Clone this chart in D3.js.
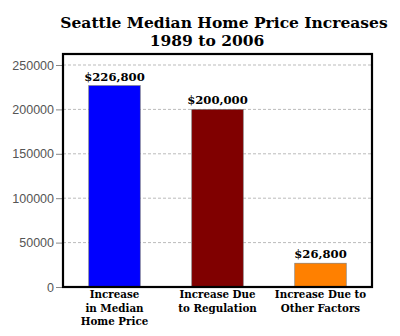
<!DOCTYPE html>
<html>
<head>
<meta charset="utf-8">
<script src="https://cdn.jsdelivr.net/npm/d3@7"></script>
<style>
  body { margin: 0; background: #fff; }
  .title { font-family: "DejaVu Serif", serif; font-weight: bold; font-size: 15.5px; fill: #000; }
  .val { font-family: "DejaVu Serif", serif; font-weight: bold; font-size: 11.6px; fill: #000; }
  .xlab { font-family: "DejaVu Serif", serif; font-weight: bold; font-size: 10.3px; fill: #000; }
  .yaxis text { font-family: "Liberation Sans", Arial, sans-serif; font-size: 12.5px; fill: #555; }
  .yaxis line { stroke: #888; }
</style>
</head>
<body>
<svg id="chart"></svg>
<script>
const categories = [
  ['Increase', 'in Median', 'Home Price'],
  ['Increase Due', 'to Regulation'],
  ['Increase Due to', 'Other Factors']
];
const values = [226800, 200000, 26800];
const valueLabels = ['$226,800', '$200,000', '$26,800'];
const barColors = ['#0000ff', '#800000', '#ff8000'];
const yTicks = [0, 50000, 100000, 150000, 200000, 250000];

const width = 400, height = 336;
const frame = { left: 63, right: 372, top: 54, bottom: 287 };

const svg = d3.select('#chart')
  .attr('width', width)
  .attr('height', height);

// title, two lines
svg.append('text').attr('class', 'title')
  .attr('x', 224).attr('y', 28)
  .attr('text-anchor', 'middle')
  .text('Seattle Median Home Price Increases');
svg.append('text').attr('class', 'title')
  .attr('x', 207).attr('y', 46)
  .attr('text-anchor', 'middle')
  .text('1989 to 2006');

const x = d3.scaleBand()
  .domain(d3.range(values.length))
  .range([frame.left, frame.right])
  .paddingInner(0.5)
  .paddingOuter(0.25);

const y = d3.scaleLinear()
  .domain([0, 250000])
  .range([frame.bottom, 65]);

// dashed gridlines
svg.append('g')
  .selectAll('line')
  .data(yTicks.filter(d => d > 0))
  .join('line')
  .attr('x1', frame.left).attr('x2', frame.right)
  .attr('y1', d => y(d)).attr('y2', d => y(d))
  .attr('stroke', '#bbb')
  .attr('stroke-dasharray', '3,2');

const yAxis = d3.axisLeft(y)
  .tickValues(yTicks)
  .tickFormat(d3.format('d'))
  .tickSize(7)
  .tickPadding(2);

svg.append('g')
  .attr('class', 'yaxis')
  .attr('transform', `translate(${frame.left},0)`)
  .call(yAxis)
  .call(g => g.select('.domain').remove());

// bars
svg.append('g')
  .selectAll('rect')
  .data(values)
  .join('rect')
  .attr('x', (d, i) => x(i))
  .attr('y', d => y(d))
  .attr('width', x.bandwidth())
  .attr('height', d => y(0) - y(d))
  .attr('fill', (d, i) => barColors[i])
  .attr('stroke', '#777')
  .attr('stroke-width', 0.6);

svg.append('g')
  .selectAll('text')
  .data(values)
  .join('text')
  .attr('class', 'val')
  .attr('x', (d, i) => x(i) + x.bandwidth() / 2)
  .attr('y', d => y(d) - 5)
  .attr('text-anchor', 'middle')
  .text((d, i) => valueLabels[i]);

// plot frame
svg.append('rect')
  .attr('x', frame.left)
  .attr('y', frame.top)
  .attr('width', frame.right - frame.left)
  .attr('height', frame.bottom - frame.top)
  .attr('fill', 'none')
  .attr('stroke', '#000')
  .attr('stroke-width', 2.2);

// category labels
const xl = svg.append('g')
  .selectAll('text')
  .data(categories)
  .join('text')
  .attr('class', 'xlab')
  .attr('text-anchor', 'middle')
  .attr('x', (d, i) => x(i) + x.bandwidth() / 2)
  .attr('y', 298);

xl.selectAll('tspan')
  .data(d => d)
  .join('tspan')
  .attr('x', function () { return d3.select(this.parentNode).attr('x'); })
  .attr('dy', (d, i) => i === 0 ? 0 : 13.5)
  .text(d => d);
</script>
</body>
</html>
